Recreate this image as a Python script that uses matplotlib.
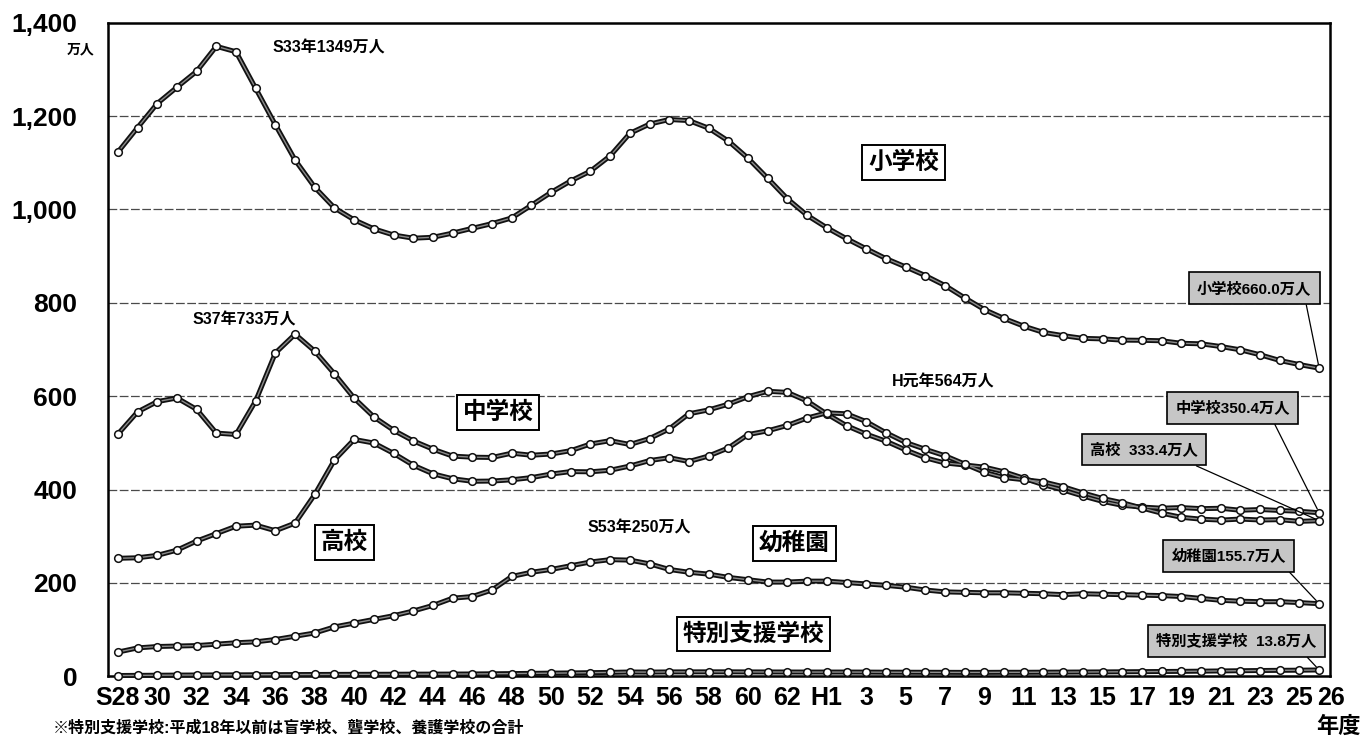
import matplotlib
matplotlib.use("Agg")
import matplotlib.pyplot as plt
import matplotlib.transforms as mtransforms
import numpy as np

plt.rcParams['font.family'] = ['Liberation Sans', 'Noto Sans CJK JP', 'DejaVu Sans']
plt.rcParams['font.weight'] = 'bold'

# 年度 S28 (1953) .. H26 (2014), enrollment in 万人
n_years = 62
tick_pos = [0, 2, 4, 6, 8, 10, 12, 14, 16, 18, 20, 22, 24, 26, 28, 30, 32, 34,
            36, 38, 40, 42, 44, 46, 48, 50, 52, 54, 56, 58, 60, 61]
tick_labels = ['S28', '30', '32', '34', '36', '38', '40', '42', '44', '46', '48',
               '50', '52', '54', '56', '58', '60', '62', 'H1', '3', '5', '7', '9',
               '11', '13', '15', '17', '19', '21', '23', '25', '26']

primary = [1122.5, 1175.1, 1226.7, 1261.6, 1295.6, 1349.2, 1337.5, 1259.1, 1181.1, 1105.7,
           1047.2, 1003.1, 977.6, 958.4, 945.2, 938.3, 940.3, 949.3, 959.5, 969.6,
           981.7, 1008.9, 1036.5, 1061.0, 1082.0, 1114.7, 1162.9, 1182.7, 1192.5, 1190.2,
           1173.9, 1146.4, 1109.5, 1066.5, 1022.6, 987.3, 960.7, 937.3, 915.7, 894.7,
           876.9, 858.3, 837.0, 810.6, 785.5, 766.4, 750.0, 736.6, 729.7, 723.9,
           722.7, 720.1, 719.7, 718.7, 713.3, 712.2, 706.4, 699.3, 688.7, 676.5,
           667.7, 660.0]

junior = [518.7, 566.4, 588.4, 596.2, 571.8, 521.0, 518.0, 590.0, 692.5, 732.8,
          696.4, 647.6, 595.7, 555.6, 527.1, 504.3, 486.5, 471.7, 469.4, 468.8,
          478.0, 473.6, 476.2, 483.4, 497.7, 504.8, 496.6, 509.4, 529.9, 562.4,
          570.7, 582.9, 599.0, 610.6, 608.1, 589.6, 561.9, 536.9, 518.8, 503.7,
          485.0, 468.1, 457.0, 452.7, 448.1, 438.1, 424.4, 410.4, 399.2, 386.3,
          374.8, 366.4, 362.6, 360.2, 361.5, 359.2, 360.0, 355.8, 357.4, 355.3,
          353.6, 350.4]

high = [252.9, 254.0, 259.2, 270.3, 289.8, 305.7, 321.6, 323.9, 311.9, 328.2,
        389.6, 463.4, 507.4, 499.7, 477.6, 452.2, 433.8, 423.2, 417.8, 418.3,
        421.0, 425.7, 433.3, 438.6, 438.1, 441.5, 450.5, 462.2, 468.3, 460.1,
        472.0, 489.2, 517.8, 525.9, 537.5, 553.3, 564.4, 562.3, 545.5, 521.8,
        501.0, 486.3, 472.5, 454.7, 437.1, 425.8, 421.2, 416.5, 406.2, 392.9,
        381.0, 371.9, 360.5, 349.5, 340.7, 336.7, 334.7, 336.9, 334.9, 335.6,
        332.0, 333.4]

kinder = [52, 61, 64, 65, 66, 69, 72, 74, 79, 86,
          93, 106, 114, 122, 130, 140, 152, 167.5, 171, 185,
          214, 223, 229, 237, 245, 250, 249, 241, 229, 223,
          219, 212, 207, 202, 202, 204, 204, 201, 198, 195,
          191, 185, 181, 180, 179, 179, 178, 177, 175, 177,
          176, 175, 174, 173, 171, 167, 163, 161, 160, 160,
          158, 155.7]

special = [1.9, 2.2, 2.5, 2.8, 3.0, 3.2, 3.3, 3.5, 3.7, 3.9,
           4.1, 4.3, 4.4, 4.5, 4.6, 4.8, 4.9, 5.0, 5.2, 5.6,
           6.0, 6.5, 7.0, 7.4, 8.0, 8.6, 9.4, 9.2, 9.6, 9.7,
           9.8, 9.8, 9.6, 9.5, 9.4, 9.3, 9.3, 9.3, 9.2, 9.0,
           8.9, 8.8, 8.7, 8.6, 8.6, 8.8, 8.8, 9.0, 9.2, 9.4,
           9.6, 9.9, 10.2, 10.5, 10.8, 11.2, 11.7, 12.2, 12.6, 13.0,
           13.3, 13.8]

x = np.arange(n_years)

W, H = 1369, 739
fig = plt.figure(figsize=(W / 100, H / 100), dpi=100)
ax = fig.add_axes([108 / W, 1 - 676.4 / H, (1330 - 108) / W, (676.4 - 22.6) / H])

ax.set_xlim(-0.5, 61.55)
ax.set_ylim(0, 1400)

# dashed horizontal gridlines
for gy in range(200, 1400, 200):
    ax.axhline(gy, color='#4a4a4a', lw=0.9, ls=(0, (7, 2)), zorder=1)

for vals in (primary, junior, high, kinder, special):
    ax.plot(x, vals, color='#111111', lw=3.6, solid_joinstyle='round', zorder=3, clip_on=False)
    ax.plot(x, vals, color='#8c8c8c', lw=1.0, zorder=4, clip_on=False)
    ax.plot(x, vals, ls='none', marker='o', ms=5.5, mfc='white', mec='#111111',
            mew=1.1, zorder=5, clip_on=False)

for s in ax.spines.values():
    s.set_linewidth(1.8)
    s.set_color('black')

ax.set_yticks(range(0, 1401, 200))
ax.set_yticklabels([f'{v:,}' for v in range(0, 1401, 200)], fontsize=19, fontweight='bold')
ax.set_xticks(tick_pos)
ax.set_xticklabels(tick_labels, fontsize=18, fontweight='bold')
ax.tick_params(axis='y', length=0, pad=22)
ax.tick_params(axis='x', length=0, pad=7)

# nudge the final year label right so it sits beside "25"
last_lbl = ax.get_xticklabels()[-1]
last_lbl.set_transform(last_lbl.get_transform() +
                       mtransforms.ScaledTranslation(0.12, 0, fig.dpi_scale_trans))

# unit and axis captions
fig.text(81 / W, 1 - 49 / H, '万人', ha='center', va='center', fontsize=10, fontweight='bold')
fig.text(1338 / W, 1 - 727 / H, '年度', ha='center', va='center', fontsize=16, fontweight='bold')
fig.text(53 / W, 1 - 720 / H, '※特別支援学校:平成18年以前は盲学校、聾学校、養護学校の合計',
         ha='left', va='top', fontsize=11.5, fontweight='bold')

# peak annotations
ax.text(10.7, 1345, f'S33年{primary[5]:.0f}万人', ha='center', va='center', fontsize=11.5, fontweight='bold')
ax.text(6.4, 763, f'S37年{junior[9]:.0f}万人', ha='center', va='center', fontsize=11.5, fontweight='bold')
ax.text(41.9, 630, f'H元年{high[36]:.0f}万人', ha='center', va='center', fontsize=11.5, fontweight='bold')
ax.text(26.5, 318, f'S53年{kinder[25]:.0f}万人', ha='center', va='center', fontsize=11.5, fontweight='bold')

# boxed series names
box_white = dict(boxstyle='square,pad=0.25', fc='white', ec='black', lw=1.4)
ax.text(39.9, 1100, '小学校', ha='center', va='center', fontsize=17, fontweight='bold', bbox=box_white, zorder=6)
ax.text(19.3, 565, '中学校', ha='center', va='center', fontsize=17, fontweight='bold', bbox=box_white, zorder=6)
ax.text(11.5, 287, '高校', ha='center', va='center', fontsize=17, fontweight='bold', bbox=box_white, zorder=6)
ax.text(34.35, 284, '幼稚園', ha='center', va='center', fontsize=17, fontweight='bold', bbox=box_white, zorder=6)
ax.text(32.27, 91, '特別支援学校', ha='center', va='center', fontsize=17, fontweight='bold', bbox=box_white, zorder=6)

# latest-year callouts
box_gray = dict(boxstyle='square,pad=0.55', fc='#c6c6c6', ec='black', lw=1.2)
callouts = [
    (f'小学校{primary[-1]:.1f}万人', primary[-1], (57.7, 831), (0.94, 0.0)),
    (f'中学校{junior[-1]:.1f}万人', junior[-1], (56.6, 575), (0.83, 0.0)),
    (f'高校  {high[-1]:.1f}万人', high[-1], (52.1, 486), (0.80, 0.0)),
    (f'幼稚園{kinder[-1]:.1f}万人', kinder[-1], (56.4, 258), (0.96, 0.0)),
    (f'特別支援学校  {special[-1]:.1f}万人', special[-1], (56.8, 76), (0.89, 0.0)),
]
for txt, val, pos, rel in callouts:
    ax.annotate(txt, xy=(61, val), xytext=pos, textcoords='data',
                ha='center', va='center', fontsize=11, fontweight='bold',
                bbox=box_gray, zorder=7, annotation_clip=False,
                arrowprops=dict(arrowstyle='-', color='black', lw=0.9,
                                relpos=rel, shrinkA=0, shrinkB=3))

fig.savefig('out.png', dpi=100)
